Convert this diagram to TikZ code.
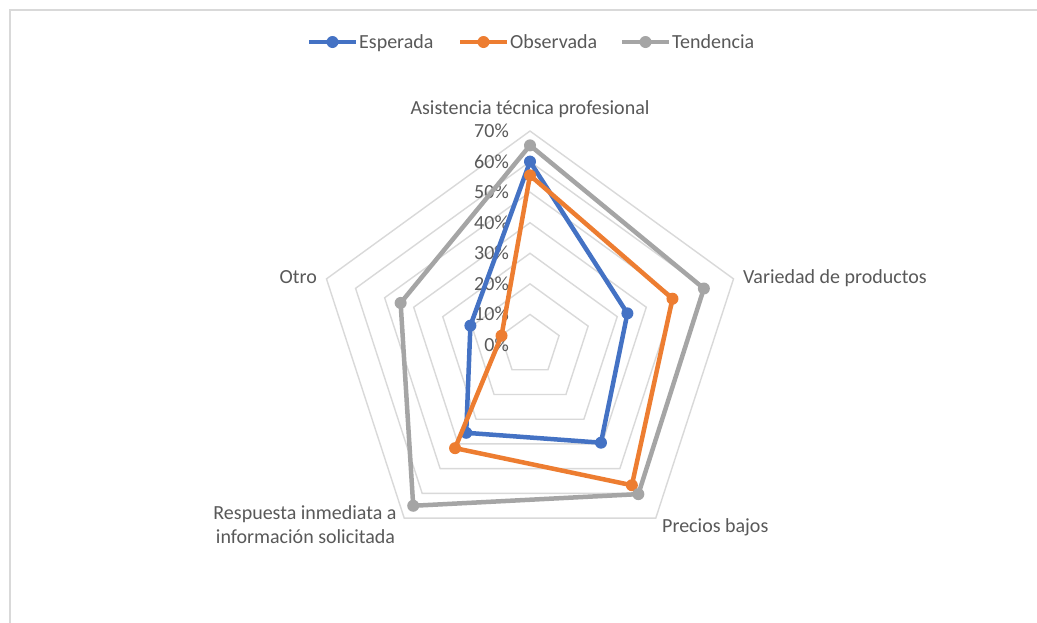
\documentclass[tikz,border=0pt]{standalone}
\usepackage{fontspec}
\setmainfont{Carlito}
\usetikzlibrary{calc}
\definecolor{cblue}{HTML}{4472C4}
\definecolor{corange}{HTML}{ED7D31}
\definecolor{cgray}{HTML}{A5A5A5}
\definecolor{ctext}{HTML}{595959}
\definecolor{cgrid}{HTML}{D9D9D9}
\newcommand\unitR{3.057}
\begin{document}
\begin{tikzpicture}[x=1pt,y=-1pt,
  font=\fontsize{20}{24}\selectfont,
  lbl/.style={text=ctext, inner sep=0pt},
  ring/.style={draw=cgrid, line width=1.4pt, line join=miter},
  series/.style={line width=4.5pt, line join=round, line cap=round},
  dot/.style={circle, fill=#1, inner sep=0pt, minimum size=12pt},
]
\useasboundingbox (0,0) rectangle (1037,622);
\fill[white] (0,0) rectangle (1037,622);
\draw[cgrid, line width=1.4pt] (10,10) rectangle (1070,660);

% legend
\coordinate (lEa) at (309,42); \coordinate (lEb) at (356,42);
\draw[series, cblue, line cap=butt] (lEa) -- (lEb);
\node[dot=cblue] (lE) at (332.5,42) {};
\node[lbl, anchor=base west] (tE) at (359,48.3) {Esperada};
\coordinate (lOa) at (460,42); \coordinate (lOb) at (507,42);
\draw[series, corange, line cap=butt] (lOa) -- (lOb);
\node[dot=corange] (lO) at (483.5,42) {};
\node[lbl, anchor=base west] (tO) at (510,48.3) {Observada};
\coordinate (lTa) at (622,42); \coordinate (lTb) at (669,42);
\draw[series, cgray, line cap=butt] (lTa) -- (lTb);
\node[dot=cgray] (lT) at (645.5,42) {};
\node[lbl, anchor=base west] (tT) at (672,48.3) {Tendencia};

\begin{scope}[shift={(530,345)}]
  \coordinate (C) at (0,0);
  % grid rings
  \foreach \k in {1,...,7} {
    \draw[ring] (-90:\k*10*\unitR) -- (-18:\k*10*\unitR) -- (54:\k*10*\unitR)
      -- (126:\k*10*\unitR) -- (198:\k*10*\unitR) -- cycle;
  }
  % tick labels
  \foreach \k/\t in {0/0,1/10,2/20,3/30,4/40,5/50,6/60,7/70} {
    \node[lbl, anchor=base east] (tick\k) at (-21,{-\k*10*\unitR+6.5}) {\t\%};
  }
  % series points
  \coordinate (e1) at (-90:60*\unitR);
  \coordinate (e2) at (-18:33.5*\unitR);
  \coordinate (e3) at (54:39.5*\unitR);
  \coordinate (e4) at (126:35.5*\unitR);
  \coordinate (e5) at (198:20.5*\unitR);
  \coordinate (o1) at (-90:55.5*\unitR);
  \coordinate (o2) at (-18:49*\unitR);
  \coordinate (o3) at (54:56.7*\unitR);
  \coordinate (o4) at (126:41.7*\unitR);
  \coordinate (o5) at (198:9.8*\unitR);
  \coordinate (t1) at (-90:65.3*\unitR);
  \coordinate (t2) at (-18:59.8*\unitR);
  \coordinate (t3) at (54:60.3*\unitR);
  \coordinate (t4) at (126:65*\unitR);
  \coordinate (t5) at (198:44.5*\unitR);

  \draw[series, cblue] (e1) -- (e2) -- (e3) -- (e4) -- (e5) -- cycle;
  \foreach \i in {1,...,5} \node[dot=cblue] (me\i) at (e\i) {};
  \draw[series, corange] (o1) -- (o2) -- (o3) -- (o4) -- (o5) -- cycle;
  \foreach \i in {1,...,5} \node[dot=corange] (mo\i) at (o\i) {};
  \draw[series, cgray] (t1) -- (t2) -- (t3) -- (t4) -- (t5) -- cycle;
  \foreach \i in {1,...,5} \node[dot=cgray] (mt\i) at (t\i) {};
\end{scope}

% category labels
\node[lbl, anchor=base] (cA) at (530,114.3) {Asistencia técnica profesional};
\node[lbl, anchor=base west] (cV) at (743,283) {Variedad de productos};
\node[lbl, anchor=base west] (cP) at (662,532) {Precios bajos};
\node[lbl, anchor=base] (cR1) at (305,519) {Respuesta inmediata a};
\node[lbl, anchor=base] (cR2) at (305.5,543) {información solicitada};
\node[lbl, anchor=base east] (cO) at (317,283) {Otro};
\end{tikzpicture}
\end{document}
